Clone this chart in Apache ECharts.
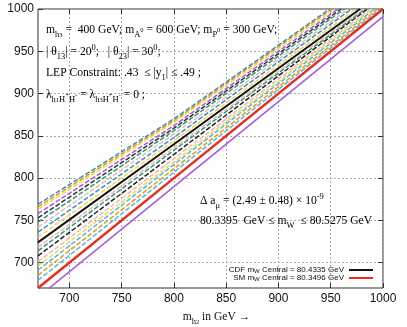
<!DOCTYPE html>
<html>
<head>
<meta charset="utf-8">
<script src="https://cdn.jsdelivr.net/npm/echarts@6/dist/echarts.min.js"></script>
<style>
  html, body { margin: 0; padding: 0; background: #fff; }
  #main { width: 407px; height: 327px; }
</style>
</head>
<body>
<div id="main"></div>
<script>
// tick labels
var xTicks = [700, 750, 800, 850, 900, 950, 1000];
var yTicks = [700, 750, 800, 850, 900, 950, 1000];

// curves, bottom to top: value at m_h2 = 670, value at 800, and where each one leaves the frame
var curveNames = ['p0', 'SM', 'c2', 'c3', 'c4', 'c5', 'c6', 'c7', 'c8', 'c9', 'CDF',
                  'c11', 'c12', 'c13', 'c14', 'c15', 'c16', 'c17', 'c18', 'c19'];
var yAt670 = [659, 670, 679, 685, 691, 696, 701, 708, 714, 718, 724, 730, 736, 742, 748, 753, 758, 763, 766, 769];
var yAt800 = [790, 800, 807, 811, 816, 819, 823, 828, 833, 836, 840, 844, 848, 852, 856, 859, 862, 866, 868, 870];
var endX = [1000, 1000, 997, 995, 992, 990, 988, 985, 983, 981, 978, 974, 970, 967, 963, 960, 957, 954, 951, 949];
var endY = [991, 1000, 1000, 1000, 1000, 1000, 1000, 1000, 1000, 1000, 1000, 1000, 1000, 1000, 1000, 1000, 1000, 1000, 1000, 1000];

var curveColors = ['#a855e8', '#ee2a1a', '#56b4e9', '#e69f00', '#56b4e9', '#f0d850', '#f5b5b0', '#222222',
                   '#2a9d78', '#f5b5b0', '#111111', '#f0d850', '#3a8fd0', '#f5b5b0', '#2a9d78', '#333333',
                   '#a855e8', '#f0d850', '#e69f00', '#3a8fd0'];

var serif = '"Liberation Serif", "DejaVu Serif", serif';
var sans = '"Liberation Sans", Arial, sans-serif';

var myChart = echarts.init(document.getElementById('main'), null, { renderer: 'canvas' });

var series = [];
for (var i = 0; i < curveNames.length; i++) {
  var name = curveNames[i];
  var solid = (name === 'SM' || name === 'CDF' || name === 'p0');
  series.push({
    name: name,
    type: 'line',
    showSymbol: false,
    silent: true,
    clip: true,
    z: name === 'SM' ? 5 : (name === 'CDF' ? 4 : 2),
    lineStyle: {
      color: curveColors[i],
      width: name === 'SM' ? 2.4 : (name === 'CDF' ? 2 : 1.5),
      type: solid ? 'solid' : [5, 2]
    },
    itemStyle: { color: curveColors[i] },
    data: [[670, yAt670[i]], [800, yAt800[i]], [endX[i], endY[i]]]
  });
}
// draw the two central lines last
series.sort(function (a, b) { return a.z - b.z; });

// rich text pieces for the annotations
var LH = 18;
var rich = {
  t: { fontFamily: serif, fontSize: 11.6, color: '#111', verticalAlign: 'middle', lineHeight: LH },
  s: { fontFamily: serif, fontSize: 8.5, color: '#111', verticalAlign: 'bottom', lineHeight: LH },
  ss: { fontFamily: serif, fontSize: 6.5, color: '#111', verticalAlign: 'bottom', lineHeight: LH },
  u: { fontFamily: serif, fontSize: 8.5, color: '#111', verticalAlign: 'top', lineHeight: LH },
  su: { fontFamily: serif, fontSize: 6.5, color: '#111', verticalAlign: 'middle', lineHeight: LH }
};

function note(x, y, text) {
  return { type: 'text', x: x, y: y, silent: true, z: 10,
           style: { text: text, rich: rich, verticalAlign: 'middle', align: 'left' } };
}

function plain(v) { return String(v); }

myChart.setOption({
  animation: false,
  grid: { left: 38, right: 24, top: 9, bottom: 39, show: true, borderColor: '#333', borderWidth: 1,
          outerBoundsMode: 'none', containLabel: false },
  legend: {
    data: ['CDF', 'SM'],
    orient: 'vertical',
    align: 'right',
    right: 34,
    top: 266,
    itemGap: 0,
    itemWidth: 24,
    itemHeight: 2,
    icon: 'rect',
    padding: 0,
    selectedMode: false,
    formatter: function (n) {
      return n === 'CDF' ? '{t|CDF m}{s|W}{t| Central = 80.4335 GeV}' : '{t|SM m}{s|W}{t| Central = 80.3496 GeV}';
    },
    textStyle: {
      rich: {
        t: { fontFamily: sans, fontSize: 8, color: '#111', lineHeight: 8 },
        s: { fontFamily: sans, fontSize: 6, color: '#111', verticalAlign: 'bottom', lineHeight: 8 }
      }
    }
  },
  xAxis: [{
    type: 'value', min: 670, max: 1000,
    axisLine: { show: false },
    axisTick: { inside: true, length: 5, customValues: xTicks, lineStyle: { color: '#333' } },
    axisLabel: { customValues: xTicks, formatter: plain, fontFamily: sans, fontSize: 12, color: '#111', margin: 5 },
    splitLine: { show: true, lineStyle: { color: '#aaa', type: [2, 2], width: 1 } },
    name: '{t|m}{s|h}{ss|2}{t| in GeV →}',
    nameLocation: 'middle', nameGap: 20,
    nameTextStyle: { rich: rich, padding: [0, 0, 0, 12] }
  }, {
    type: 'value', min: 670, max: 1000, position: 'top',
    axisLine: { show: false },
    axisTick: { inside: true, length: 5, customValues: xTicks, lineStyle: { color: '#333' } },
    axisLabel: { show: false, customValues: xTicks },
    splitLine: { show: false }
  }],
  yAxis: [{
    type: 'value', min: 670, max: 1000,
    axisLine: { show: false },
    axisTick: { show: true, inside: true, length: 5, customValues: yTicks, lineStyle: { color: '#333' } },
    axisLabel: { customValues: yTicks, formatter: plain, fontFamily: sans, fontSize: 12, color: '#111', margin: 4 },
    splitLine: { show: true, lineStyle: { color: '#aaa', type: [2, 2], width: 1 } },
    name: '{t|m}{s|H}{su|+}{t| in GeV →}',
    nameLocation: 'middle', nameGap: 26, nameRotate: 90,
    nameTextStyle: { rich: rich, padding: [0, 0, 0, 12] }
  }, {
    type: 'value', min: 670, max: 1000, position: 'right',
    axisLine: { show: false },
    axisTick: { show: true, inside: true, length: 5, customValues: yTicks, lineStyle: { color: '#333' } },
    axisLabel: { show: false, customValues: yTicks },
    splitLine: { show: false }
  }],
  graphic: [
    note(46, 30, '{t|m}{s|h}{ss|3}{t| =  400 GeV; m}{s|A}{su|0}{t| = 600 GeV; m}{s|P}{su|0}{t| = 300 GeV;}'),
    note(46, 52, '{t|| θ}{s|13}{t|| = 20}{u|0}{t|;   | θ}{s|23}{t|| = 30}{u|0}{t|;}'),
    note(46, 73, '{t|LEP Constraint: .43  ≤ |y}{s|1}{t|| ≤ .49 ;}'),
    note(46, 95, '{t|λ}{s|h}{ss|1}{s|H}{su|+}{s|H}{su|-}{t| = λ}{s|h}{ss|3}{s|H}{su|+}{s|H}{su|-}{t| = 0 ;}'),
    note(200, 201, '{t|Δ a}{s|μ}{t| = (2.49 ± 0.48) × 10}{u|-9}'),
    note(200, 221, '{t|80.3395  GeV ≤ m}{s|W}{t|  ≤ 80.5275 GeV}')
  ],
  series: series
});
</script>
</body>
</html>
